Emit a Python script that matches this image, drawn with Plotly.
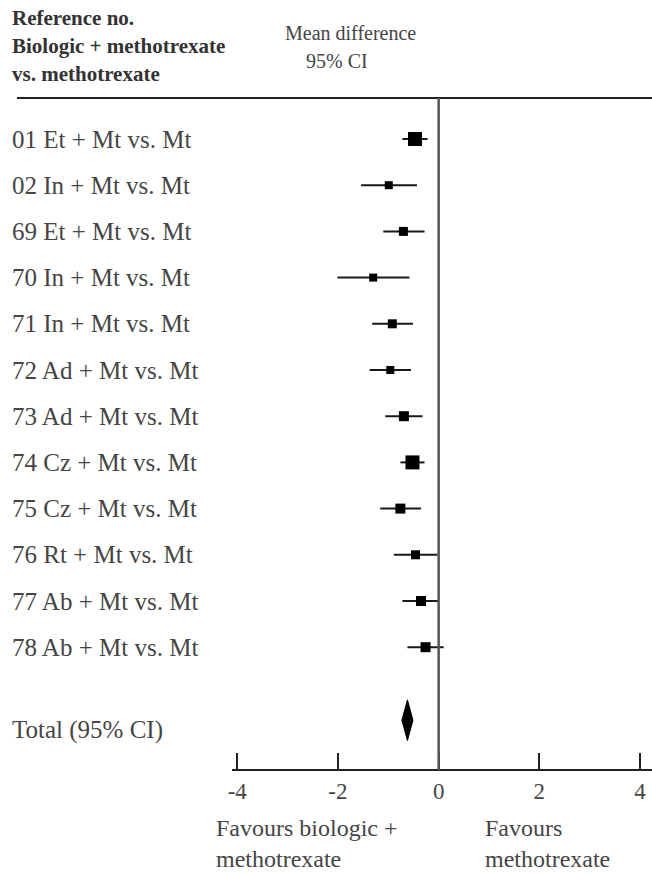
import plotly.graph_objects as go

# Study rows: label, mean difference, 95% CI bounds, relative weight (square size)
labels = [
    "01 Et + Mt vs. Mt", "02 In + Mt vs. Mt", "69 Et + Mt vs. Mt",
    "70 In + Mt vs. Mt", "71 In + Mt vs. Mt", "72 Ad + Mt vs. Mt",
    "73 Ad + Mt vs. Mt", "74 Cz + Mt vs. Mt", "75 Cz + Mt vs. Mt",
    "76 Rt + Mt vs. Mt", "77 Ab + Mt vs. Mt", "78 Ab + Mt vs. Mt",
]
mean_diff = [-0.47, -0.99, -0.70, -1.30, -0.92, -0.96, -0.69, -0.52, -0.76, -0.46, -0.35, -0.26]
ci_low = [-0.72, -1.54, -1.10, -2.01, -1.32, -1.37, -1.06, -0.76, -1.16, -0.89, -0.72, -0.62]
ci_high = [-0.22, -0.43, -0.28, -0.58, -0.51, -0.55, -0.32, -0.28, -0.35, -0.02, 0.00, 0.10]
weights = [14, 8, 9, 8, 9, 8, 10, 14, 10, 9, 10, 10]

# Pooled estimate
total_mean = -0.62
total_low = -0.73
total_high = -0.51

tick_vals = [-4, -2, 0, 2, 4]
tick_text = ["-4", "-2", "0", "2", "4"]

W, H = 652, 873
row_pos = list(range(1, len(labels) + 1))
total_pos = 13.58
row_px0, row_step = 139, 46.2

def py(px):
    return 1 + (px - row_px0) / row_step

SERIF = "Liberation Serif"
TXT = "#454545"
INK = "#000000"

fig = go.Figure()

# CI whiskers first, squares drawn on top of them
fig.add_trace(go.Scatter(
    x=mean_diff, y=row_pos, mode="markers",
    marker=dict(symbol="square", size=1, color="rgba(0,0,0,0)", opacity=1),
    error_x=dict(type="data", symmetric=False,
                 array=[h - m for h, m in zip(ci_high, mean_diff)],
                 arrayminus=[m - l for m, l in zip(mean_diff, ci_low)],
                 thickness=2, width=0, color="#1a1a1a"),
    showlegend=False, hoverinfo="skip",
))
fig.add_trace(go.Scatter(
    x=mean_diff, y=row_pos, mode="markers",
    marker=dict(symbol="square", size=weights, color=INK, opacity=1,
                line=dict(width=0)),
    showlegend=False, hoverinfo="skip",
))

# Pooled diamond
half_h = 0.44
fig.add_trace(go.Scatter(
    x=[total_low, total_mean, total_high, total_mean, total_low],
    y=[total_pos, total_pos - half_h, total_pos, total_pos + half_h, total_pos],
    mode="lines", fill="toself", fillcolor=INK,
    line=dict(color=INK, width=1), showlegend=False, hoverinfo="skip",
))

x_left_px = 229
unit_px = 50.75
zero_px = 437
x_range = [(x_left_px - zero_px) / unit_px, (W - zero_px) / unit_px]
axis_y = 1 - 770 / H
header_y = 1 - 98 / H

common_x = dict(range=x_range, domain=[x_left_px / W, 1], anchor="free",
                position=axis_y, showgrid=False, zeroline=False,
                showline=True, linecolor="#222222", linewidth=2,
                tickvals=tick_vals, tickcolor="#222222", tickwidth=2)

fig.update_layout(
    width=W, height=H, margin=dict(l=0, r=0, t=0, b=0),
    paper_bgcolor="white", plot_bgcolor="white",
    xaxis=dict(**common_x, ticks="inside", ticklen=16, ticktext=tick_text,
               tickfont=dict(family=SERIF, size=23, color=TXT)),
    xaxis2=dict(**common_x, overlaying="x", ticks="outside", ticklen=7,
                showticklabels=False),
    yaxis=dict(range=[py(H), py(0)], domain=[0, 1], visible=False),
)

# Header rule and line of no effect
fig.add_shape(type="line", xref="paper", yref="paper", x0=12 / W, x1=1,
              y0=header_y, y1=header_y, line=dict(color="#222222", width=2))
fig.add_shape(type="line", xref="x", yref="paper", x0=0, x1=0,
              y0=header_y, y1=axis_y, line=dict(color="#555555", width=2.5))

def note(text, x_px, y_px, size, bold=False, color=TXT):
    fig.add_annotation(
        text=f"<b>{text}</b>" if bold else text,
        xref="paper", yref="paper", x=x_px / W, y=1 - y_px / H,
        xanchor="left", yanchor="middle", showarrow=False,
        font=dict(family=SERIF, size=size, color=color),
    )

# Column headers
note("Reference no.", 5, 18, 21, bold=True, color="#333333")
note("Biologic + methotrexate", 5, 46, 21, bold=True, color="#333333")
note("vs. methotrexate", 5, 74, 21, bold=True, color="#333333")
note("Mean difference", 280, 33, 20)
note("95% CI", 301, 61, 20)

# Study labels
for lab, yv in zip(labels, row_pos):
    fig.add_annotation(text=lab, xref="paper", yref="y", x=5 / W, y=yv,
                       xanchor="left", yanchor="middle", showarrow=False,
                       font=dict(family=SERIF, size=25, color=TXT))
fig.add_annotation(text="Total (95% CI)", xref="paper", yref="y", x=5 / W,
                   y=py(730), xanchor="left", yanchor="middle", showarrow=False,
                   font=dict(family=SERIF, size=25, color=TXT))

# Direction labels under the axis
for txt, x_px in [("Favours biologic +<br>methotrexate", 212),
                  ("Favours<br>methotrexate", 483)]:
    fig.add_annotation(text=txt, xref="paper", yref="paper", x=x_px / W, y=0,
                       xanchor="left", yanchor="bottom", align="left",
                       showarrow=False, borderpad=0,
                       font=dict(family=SERIF, size=24, color=TXT))

fig.write_html("out.html")
